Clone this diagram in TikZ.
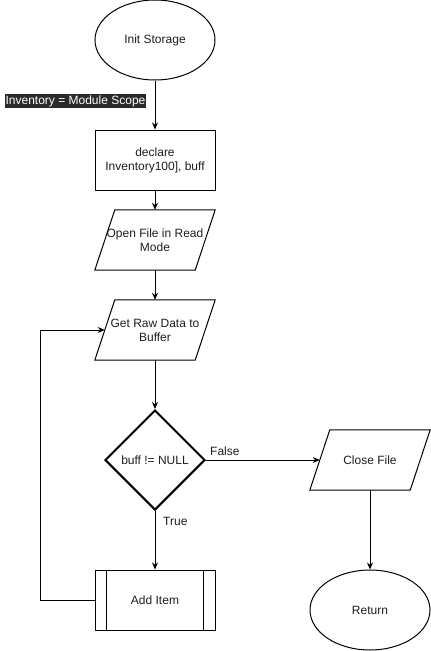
\documentclass[tikz,border=0pt]{standalone}
\usepackage{fontspec}
\setmainfont{Liberation Sans}
\usetikzlibrary{shapes.geometric,arrows.meta}
\definecolor{labelbg}{RGB}{42,42,42}
\definecolor{txt}{RGB}{30,30,30}
\tikzset{
  every node/.style={font=\fontsize{12}{14}\selectfont, text=txt},
  base/.style={line width=1pt, draw=black},
  term/.style={base, ellipse, minimum width=120pt, minimum height=80pt, inner sep=0pt},
  procbox/.style={base, rectangle, minimum width=120pt, minimum height=60pt, inner sep=0pt, align=center},
  parabox/.style={rectangle, minimum width=120pt, minimum height=60pt, inner sep=0pt, align=center},
  decide/.style={diamond, draw=black, line width=2pt, minimum width=100pt, minimum height=100pt, inner sep=0pt},
  conn/.style={line width=1pt, -{Stealth[length=7pt,width=6pt]}},
  plainline/.style={line width=1pt},
}
\begin{document}
\begin{tikzpicture}[x=1pt,y=-1pt]
\useasboundingbox (0,0) rectangle (431,651);
% nodes
\node[term] (init) at (155,40) {Init Storage};
\node[fill=labelbg, text=white, inner xsep=1pt, inner ysep=1.5pt] (scope) at (75.5,101) {Inventory = Module Scope};
\node[procbox] (decl) at (155,160) {declare\\Inventory100], buff};
\node[parabox] (open) at (155,240) {Open File in Read\\Mode};
\node[parabox] (raw) at (155,330) {Get Raw Data to\\Buffer};
\node[decide] (cond) at (155,460) {buff != NULL};
\node[parabox] (close) at (370,460) {Close File};
\node[procbox] (add) at (155,600) {Add Item};
\node[term] (ret) at (370,610) {Return};
% parallelogram outlines
\foreach \n in {open,raw,close}{
  \draw[base] ([xshift=20pt]\n.north west) -- (\n.north east) -- ([xshift=-20pt]\n.south east) -- (\n.south west) -- cycle;
}
% subprocess inner lines
\draw[plainline] ([xshift=12pt]add.north west) -- ([xshift=12pt]add.south west);
\draw[plainline] ([xshift=-12pt]add.north east) -- ([xshift=-12pt]add.south east);
% coordinates
\coordinate (rawleft) at ([xshift=10pt]raw.west);
\coordinate (closeleft) at ([xshift=10pt]close.west);
\coordinate (loopa) at (40,600);
\coordinate (loopb) at (40,330);
% connectors
\draw[conn] (init.south) -- (decl.north);
\draw[conn] (decl.south) -- (open.north);
\draw[conn] (open.south) -- (raw.north);
\draw[conn] (raw.south) -- (cond.north);
\draw[conn] (cond.east) -- (closeleft);
\draw[conn] (cond.south) -- (add.north);
\draw[conn] (close.south) -- (ret.north);
\draw[conn] (add.west) -- (loopa) -- (loopb) -- (rawleft);
% labels
\node[anchor=west, inner sep=0pt] (lfalse) at (210,451) {False};
\node[anchor=west, inner sep=0pt] (ltrue) at (163,521) {True};
\end{tikzpicture}
\end{document}
